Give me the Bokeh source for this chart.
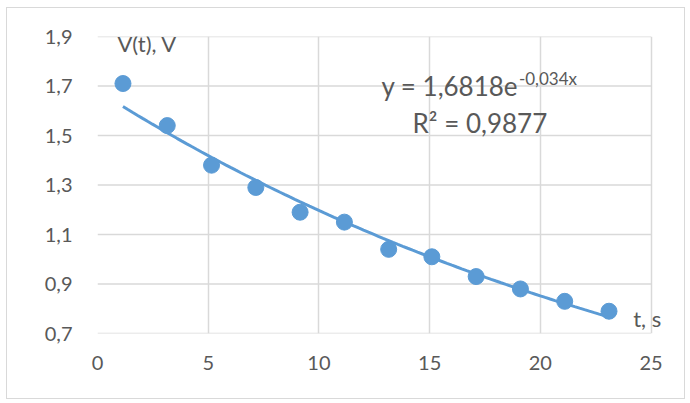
import numpy as np
from bokeh.plotting import figure
from bokeh.models import (ColumnDataSource, FixedTicker, CustomJSTickFormatter,
                          Label, Range1d)
from bokeh.embed import file_html
from bokeh.resources import INLINE

# data
t_values = [1.15, 3.15, 5.15, 7.15, 9.15, 11.15, 13.15, 15.1, 17.1, 19.1, 21.1, 23.1]
v_values = [1.71, 1.54, 1.38, 1.29, 1.19, 1.15, 1.04, 1.01, 0.93, 0.88, 0.83, 0.79]
trend_a = 1.6818
trend_b = -0.034
x_ticks = [0, 5, 10, 15, 20, 25]
y_ticks = [0.7, 0.9, 1.1, 1.3, 1.5, 1.7, 1.9]
eq_main = "y = 1,6818e"
eq_sup = "-0,034x"
r2_text = "R² = 0,9877"
y_title = "V(t), V"
x_title = "t, s"

BLUE = "#5B9BD5"
TXT = "#595959"
GRID = "#D9D9D9"
FONT = "Lato"

x_min, x_max = x_ticks[0], x_ticks[-1]

p = figure(width=679, height=392, output_backend="svg", toolbar_location=None,
           title=None, x_range=Range1d(0, 26.6), y_range=Range1d(0.7, 1.9),
           min_border_left=90, min_border_right=0, min_border_top=28,
           min_border_bottom=67)
p.styles = {"border": "1px solid #D9D9D9", "margin-left": "6px", "margin-top": "7px"}
p.outline_line_color = None
p.background_fill_color = "white"
p.border_fill_color = "white"

for ax in (p.xaxis[0], p.yaxis[0]):
    ax.axis_line_color = None
    ax.major_tick_line_color = None
    ax.minor_tick_line_color = None
    ax.major_label_text_color = TXT
    ax.major_label_text_font = FONT
    ax.major_label_text_font_size = "20px"
p.xaxis.ticker = FixedTicker(ticks=x_ticks)
p.yaxis.ticker = FixedTicker(ticks=y_ticks)
p.yaxis.formatter = CustomJSTickFormatter(code="return tick.toFixed(1).replace('.', ',');")
p.xaxis.major_label_standoff = 16
p.yaxis.major_label_standoff = 19
p.xgrid.ticker = FixedTicker(ticks=x_ticks)
p.xgrid.grid_line_color = GRID
p.xgrid.grid_line_width = 1.5
p.ygrid.grid_line_color = None

# horizontal gridlines limited to the plotted t range
p.segment(x0=[x_min] * len(y_ticks), x1=[x_max] * len(y_ticks), y0=y_ticks, y1=y_ticks,
          line_color=GRID, line_width=1.5)

# trendline from displayed equation
xt = np.linspace(t_values[0], t_values[-1], 100)
yt = trend_a * np.exp(trend_b * xt)
p.line(xt, yt, line_color=BLUE, line_width=3)

src = ColumnDataSource(dict(t=t_values, v=v_values))
p.scatter("t", "v", source=src, size=16, fill_color=BLUE, line_color=BLUE)

common = dict(text_color=TXT, text_font=FONT, text_baseline="alphabetic")
p.add_layout(Label(x=19.0, y=1.698, text=eq_main, text_align="right",
                   text_font_size="26px", **common))
p.add_layout(Label(x=19.03, y=1.730, text=eq_sup, text_align="left",
                   text_font_size="17px", **common))
p.add_layout(Label(x=17.27, y=1.552, text=r2_text, text_align="center",
                   text_font_size="26px", **common))
p.add_layout(Label(x=0.9, y=1.872, text=y_title, text_align="left",
                   text_font_size="22px", **common))
p.add_layout(Label(x=24.19, y=0.762, text=x_title, text_align="left",
                   text_font_size="22px", **common))

open("out.html", "w").write(file_html(p, INLINE))
